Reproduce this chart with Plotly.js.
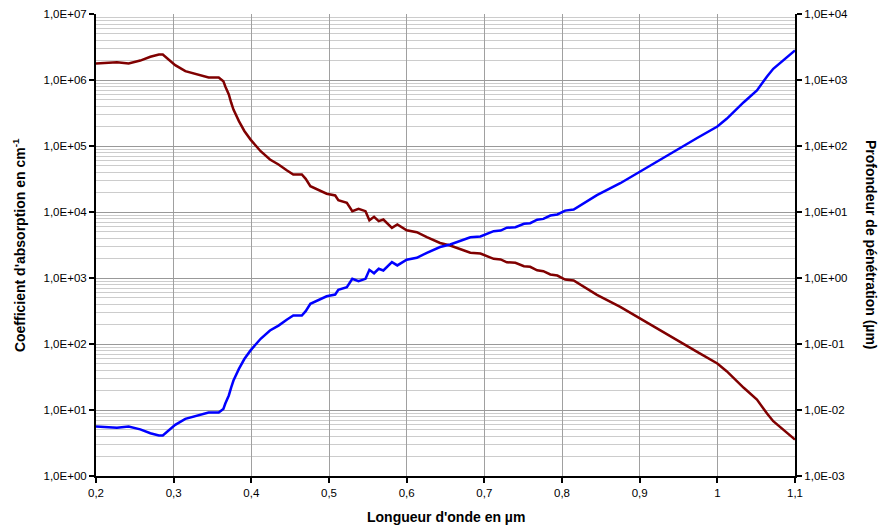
<!DOCTYPE html>
<html>
<head>
<meta charset="utf-8">
<script src="https://cdn.plot.ly/plotly-3.0.1.min.js"></script>
<style>html,body{margin:0;padding:0;background:#fff}#chart{width:880px;height:528px}</style>
</head>
<body>
<div id="chart"></div>
<script>
// Wavelength in µm
const wavelength = [0.200,0.227,0.242,0.257,0.270,0.278,0.281,0.286,0.291,0.302,0.315,0.330,0.345,0.358,0.364,0.3665,0.371,0.374,0.377,0.384,0.391,0.399,0.412,0.424,0.435,0.446,0.454,0.465,0.470,0.476,0.485,0.497,0.508,0.512,0.523,0.530,0.538,0.547,0.552,0.558,0.564,0.570,0.581,0.588,0.600,0.613,0.626,0.643,0.656,0.669,0.682,0.695,0.701,0.712,0.721,0.729,0.740,0.751,0.759,0.768,0.776,0.785,0.794,0.804,0.815,0.828,0.845,0.875,0.901,0.944,0.974,1.000,1.012,1.034,1.051,1.064,1.072,1.100];
// Absorption coefficient in cm-1
const absorption = [1.78e6,1.86e6,1.78e6,1.97e6,2.25e6,2.40e6,2.43e6,2.43e6,2.17e6,1.68e6,1.36e6,1.21e6,1.09e6,1.09e6,9.6e5,7.98e5,6.03e5,4.56e5,3.57e5,2.38e5,1.69e5,1.25e5,8.34e4,6.24e4,5.25e4,4.26e4,3.70e4,3.70e4,3.18e4,2.46e4,2.19e4,1.89e4,1.78e4,1.51e4,1.38e4,1.03e4,1.12e4,1.03e4,7.51e3,8.46e3,7.26e3,7.70e3,5.76e3,6.47e3,5.30e3,4.94e3,4.15e3,3.39e3,3.11e3,2.70e3,2.41e3,2.35e3,2.19e3,1.95e3,1.91e3,1.73e3,1.70e3,1.51e3,1.48e3,1.31e3,1.27e3,1.13e3,1.09e3,949,917,736,556,366,241,124,76,50.7,38.7,21.7,14.4,8.85,6.76,3.57];
// Penetration depth in µm
const depth = [5.62e-3,5.38e-3,5.62e-3,5.08e-3,4.44e-3,4.17e-3,4.12e-3,4.12e-3,4.61e-3,5.95e-3,7.35e-3,8.26e-3,9.17e-3,9.17e-3,1.04e-2,1.253e-2,1.66e-2,2.19e-2,2.80e-2,4.20e-2,5.92e-2,8.0e-2,0.120,0.160,0.190,0.235,0.270,0.270,0.314,0.407,0.457,0.529,0.562,0.662,0.725,0.971,0.893,0.971,1.33,1.18,1.38,1.30,1.74,1.55,1.89,2.02,2.41,2.95,3.22,3.70,4.15,4.26,4.57,5.13,5.24,5.78,5.88,6.62,6.76,7.63,7.87,8.85,9.17,10.5,10.9,13.6,18.0,27.3,41.5,80.6,132,197,258,461,694,1130,1479,2801];

const xTickVals = [0.2,0.3,0.4,0.5,0.6,0.7,0.8,0.9,1.0,1.1];
const xTickText = ["0,2","0,3","0,4","0,5","0,6","0,7","0,8","0,9","1","1,1"];
const yTickVals = [1,10,100,1e3,1e4,1e5,1e6,1e7];
const yTickText = ["1,0E+00","1,0E+01","1,0E+02","1,0E+03","1,0E+04","1,0E+05","1,0E+06","1,0E+07"];
const y2TickVals = [1e-3,1e-2,1e-1,1,10,100,1e3,1e4];
const y2TickText = ["1,0E-03","1,0E-02","1,0E-01","1,0E+00","1,0E+01","1,0E+02","1,0E+03","1,0E+04"];

const minorVals = [];
for (let k = 0; k < 7; k++) for (let d = 2; d <= 9; d++) minorVals.push(d * Math.pow(10, k));

const FONT = "Liberation Sans, Arial, sans-serif";

const traces = [
  {x: wavelength, y: absorption, type: 'scatter', mode: 'lines', name: "Coefficient d'absorption",
   line: {color: '#800000', width: 2.5}, yaxis: 'y'},
  {x: wavelength, y: depth, type: 'scatter', mode: 'lines', name: 'Profondeur de pénétration',
   line: {color: '#0000ff', width: 2.5}, yaxis: 'y2'}
];

const layout = {
  width: 880, height: 528,
  margin: {l: 96, r: 85, t: 14, b: 52},
  paper_bgcolor: '#fff', plot_bgcolor: '#fff',
  showlegend: false,
  font: {family: FONT, size: 11.5, color: '#000'},
  xaxis: {
    range: [0.2, 1.1], tickmode: 'array', tickvals: xTickVals, ticktext: xTickText,
    showgrid: true, gridcolor: '#a0a0a0', gridwidth: 1,
    showline: true, linecolor: '#000', linewidth: 2,
    ticks: 'outside', ticklen: 5, tickcolor: '#000', tickwidth: 2,
    zeroline: false, tickfont: {family: FONT, size: 11.5}
  },
  yaxis: {
    type: 'log', range: [0, 7], tickmode: 'array', tickvals: yTickVals, ticktext: yTickText,
    showgrid: true, gridcolor: '#999', gridwidth: 1,
    minor: {tickmode: 'array', tickvals: minorVals, showgrid: true, gridcolor: '#cccccc', gridwidth: 1, ticks: ''},
    showline: true, linecolor: '#000', linewidth: 2,
    ticks: 'outside', ticklen: 5, tickcolor: '#000', tickwidth: 1.5,
    zeroline: false, tickfont: {family: FONT, size: 11.5}
  },
  yaxis2: {
    type: 'log', range: [-3, 4], overlaying: 'y', side: 'right',
    tickmode: 'array', tickvals: y2TickVals, ticktext: y2TickText,
    showgrid: false, showline: true, linecolor: '#000', linewidth: 2,
    ticks: 'outside', ticklen: 5, tickcolor: '#000', tickwidth: 1.5,
    zeroline: false, tickfont: {family: FONT, size: 11.5}
  },
  annotations: [
    {text: "Longueur d'onde en µm", xref: 'paper', yref: 'paper', x: 0.5, y: -0.0897,
     xanchor: 'center', yanchor: 'middle', showarrow: false,
     font: {family: FONT, size: 14, color: '#000', weight: 'bold'}},
    {text: "Coefficient d'absorption en cm<sup>-1</sup>", xref: 'paper', yref: 'paper', x: -0.110, y: 0.5,
     xanchor: 'center', yanchor: 'middle', showarrow: false, textangle: -90,
     font: {family: FONT, size: 14, color: '#000', weight: 'bold'}},
    {text: "Profondeur de pénétration (µm)", xref: 'paper', yref: 'paper', x: 1.1087, y: 0.5,
     xanchor: 'center', yanchor: 'middle', showarrow: false, textangle: 90,
     font: {family: FONT, size: 14, color: '#000', weight: 'bold'}}
  ]
};

Plotly.newPlot('chart', traces, layout, {staticPlot: true, displayModeBar: false});
</script>
</body>
</html>
